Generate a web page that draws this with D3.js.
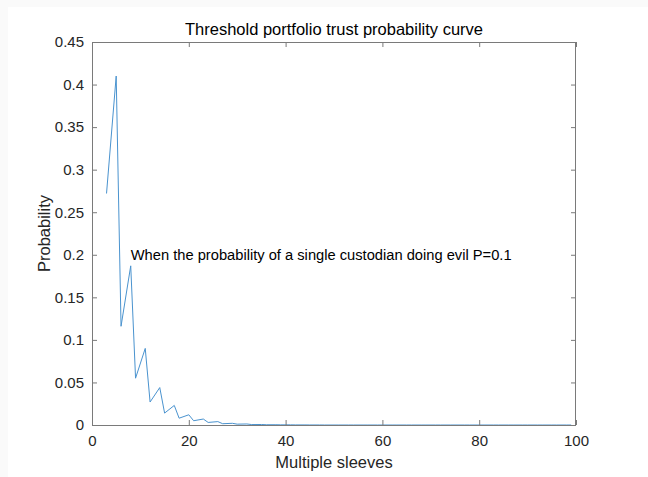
<!DOCTYPE html>
<html><head><meta charset="utf-8">
<script src="https://cdn.jsdelivr.net/npm/d3@7/dist/d3.min.js"></script>
<style>
html,body{margin:0;padding:0;background:#fafafa;}
svg{display:block;}
text{font-family:"Liberation Sans",Arial,Helvetica,sans-serif;}
</style></head>
<body>
<svg id="chart" width="648" height="477"></svg>
<script>
const xValues = [3,5,6,8,9,11,12,14,15,17,18,20,21,23,24,26,27,29,30,32,33,35,36,38,39,41,42,44,45,47,48,50,51,53,54,56,57,59,60,62,63,65,66,68,69,71,72,74,75,77,78,80,81,83,84,86,87,89,90,92,93,95,96,98,99];
const probValues = [0.272,0.410,0.116,0.187,0.055,0.090,0.027,0.044,0.014,0.023,0.008,0.012,0.005,0.007,0.003,0.004,0.0015,0.002,0.001,0.0012,0.0005,0.0006,0.0003,0.0003,0.0002,0.0002,0.0001,0.0001,0.00005,0.00005,0,0,0,0,0,0,0,0,0,0,0,0,0,0,0,0,0,0,0,0,0,0,0,0,0,0,0,0,0,0,0,0,0,0,0];
const xTicks = [0,20,40,60,80,100];
const yTicks = [0,0.05,0.1,0.15,0.2,0.25,0.3,0.35,0.4,0.45];
const titleText = "Threshold portfolio trust probability curve";
const xLabel = "Multiple sleeves";
const yLabel = "Probability";
const annotation = {x: 8, y: 0.2, text: "When the probability of a single custodian doing evil P=0.1"};

const svg = d3.select("#chart");
svg.append("rect").attr("x",8).attr("y",7).attr("width",640).attr("height",470).attr("fill","#fff");

const L=92, R=576, T=42, B=425;
const x = d3.scaleLinear().domain([0,100]).range([L,R]);
const y = d3.scaleLinear().domain([0,0.45]).range([B,T]);
const axisColor = "#7a7a7a", textColor = "#262626";

// line
const line = d3.line().x((d,i)=>x(xValues[i])).y(d=>y(d));
svg.append("path").datum(probValues).attr("d",line)
  .attr("fill","none").attr("stroke","#4a93cf").attr("stroke-width",1);

function styleAxis(g){
  g.select(".domain").remove();
  g.selectAll(".tick line").attr("stroke",axisColor);
  g.selectAll(".tick text").attr("fill",textColor).style("font-size","15px");
}
// bottom
svg.append("g").attr("transform",`translate(0,${B})`)
  .call(d3.axisBottom(x).tickValues(xTicks).tickSize(-5).tickPadding(10).tickFormat(d3.format("d")))
  .call(styleAxis);
// top ticks
svg.append("g").attr("transform",`translate(0,${T})`)
  .call(d3.axisTop(x).tickValues(xTicks).tickSize(-5).tickFormat(""))
  .call(styleAxis);
// left
svg.append("g").attr("transform",`translate(${L},0)`)
  .call(d3.axisLeft(y).tickValues(yTicks).tickSize(-5).tickPadding(8).tickFormat(d=>String(+d.toFixed(2))))
  .call(styleAxis);
// right ticks
svg.append("g").attr("transform",`translate(${R},0)`)
  .call(d3.axisRight(y).tickValues(yTicks).tickSize(-5).tickFormat(""))
  .call(styleAxis);

// box
svg.append("rect").attr("x",L+0.5).attr("y",T+0.5).attr("width",R-L-1).attr("height",B-T)
  .attr("fill","none").attr("stroke",axisColor).attr("stroke-width",1);

// title and labels
svg.append("text").attr("x",(L+R)/2).attr("y",35).attr("text-anchor","middle")
  .attr("fill","#000").style("font-size","16.5px").text(titleText);
svg.append("text").attr("x",(L+R)/2).attr("y",468).attr("text-anchor","middle")
  .attr("fill",textColor).style("font-size","16.5px").text(xLabel);
svg.append("text").attr("transform",`translate(44,${(T+B)/2}) rotate(-90)`).attr("text-anchor","middle")
  .attr("dy","0.35em").attr("fill",textColor).style("font-size","16.5px").text(yLabel);
svg.append("text").attr("x",x(annotation.x)).attr("y",y(annotation.y)).attr("dy","0.35em")
  .attr("fill","#000").style("font-size","14.7px").text(annotation.text);
</script>
</body></html>
